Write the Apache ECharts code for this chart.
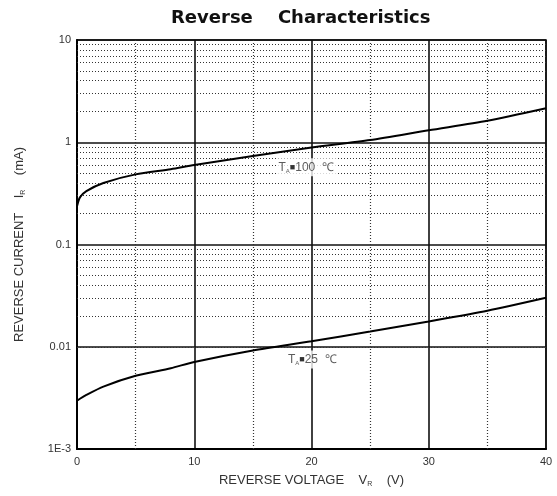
<!DOCTYPE html>
<html>
<head>
<meta charset="utf-8">
<script src="https://cdn.jsdelivr.net/npm/echarts@6/dist/echarts.min.js"></script>
<style>
  html, body { margin: 0; padding: 0; background: #fff; }
  #chart { width: 557px; height: 496px; }
</style>
</head>
<body>
<div id="chart"></div>
<script>
// reverse voltage (V)
const voltage = [0, 0.25, 0.8, 2.25, 5, 8, 10, 15, 20, 25, 30, 35, 40];
// reverse current (mA)
const current100 = [0.237, 0.289, 0.333, 0.40, 0.485, 0.544, 0.598, 0.734, 0.887, 1.05, 1.31, 1.62, 2.15];
const current25 = [0.00296, 0.0031, 0.00338, 0.00408, 0.0052, 0.00617, 0.0071, 0.0092, 0.0113, 0.0141, 0.0177, 0.0225, 0.0301];
// dotted minor grid
const minorY = [];
[0.001, 0.01, 0.1, 1].forEach(d => {
  for (let k = 2; k <= 9; k++) minorY.push(+(d * k).toPrecision(3));
});
const minorX = [5, 15, 25, 35];
const yLabels = { 0.001: '1E-3', 0.01: '0.01', 0.1: '0.1', 1: '1', 10: '10' };
// annotations [x, y, text]
const notes = [
  [17.1, 0.57, '100  ℃'],
  [17.9, 0.0075, '25  ℃']
];

const pairs = ys => voltage.map((v, i) => [v, ys[i]]);
const sub = { fontSize: 7, verticalAlign: 'bottom', padding: [9, 0, 0, 0], color: '#333' };

const myChart = echarts.init(document.getElementById('chart'));
const option = {
  animation: false,
  title: {
    text: 'Reverse    Characteristics',
    left: 166,
    top: 4,
    textStyle: { fontFamily: 'DejaVu Sans', fontWeight: 'bold', fontSize: 18, color: '#111' }
  },
  grid: {
    left: 77, right: 11, top: 40, bottom: 47,
    show: true, borderColor: '#000', borderWidth: 1.5
  },
  xAxis: {
    type: 'value',
    min: 0, max: 40, interval: 10,
    axisLine: { show: true, lineStyle: { color: '#000', width: 2 } },
    axisTick: { show: false },
    axisLabel: { margin: 7, fontFamily: 'Liberation Sans', fontSize: 11, color: '#333' },
    splitLine: { show: true, lineStyle: { color: '#111', width: 1.6 } },
    name: 'REVERSE VOLTAGE    V{s|R}    (V)',
    nameLocation: 'middle',
    nameGap: 23,
    nameTextStyle: { fontFamily: 'Liberation Sans', fontSize: 13, color: '#333', rich: { s: sub } }
  },
  yAxis: {
    type: 'log',
    logBase: 10,
    min: 0.001, max: 10,
    axisLine: { show: true, lineStyle: { color: '#000', width: 2 } },
    axisTick: { show: false },
    axisLabel: {
      margin: 6, fontFamily: 'Liberation Sans', fontSize: 11, color: '#333',
      formatter: v => yLabels[+v.toPrecision(3)] || ''
    },
    splitLine: { show: true, lineStyle: { color: '#111', width: 1.6 } },
    name: 'REVERSE CURRENT    I{s|R}    (mA)',
    nameLocation: 'middle',
    nameGap: 50,
    nameTextStyle: { fontFamily: 'Liberation Sans', fontSize: 13, color: '#333', rich: { s: sub } }
  },
  series: [
    {
      type: 'line',
      data: pairs(current100),
      smooth: 0.25,
      symbol: 'none',
      lineStyle: { color: '#000', width: 2 },
      z: 5,
      markLine: {
        silent: true,
        symbol: 'none',
        label: { show: false },
        lineStyle: { type: [1, 2], color: '#333', width: 1.2 },
        data: minorY.map(v => ({ yAxis: v })).concat(minorX.map(v => ({ xAxis: v })))
      }
    },
    {
      type: 'line',
      data: pairs(current25),
      smooth: 0.25,
      symbol: 'none',
      lineStyle: { color: '#000', width: 2 },
      z: 5
    },
    {
      type: 'scatter',
      symbolSize: 0,
      z: 10,
      data: notes.map(n => ({ value: [n[0], n[1]], txt: n[2] })),
      label: {
        show: true,
        position: 'right',
        distance: 0,
        backgroundColor: '#fff',
        padding: [2, 3, 2, 1],
        fontFamily: 'Liberation Sans',
        fontSize: 12,
        color: '#333',
        formatter: p => 'T{s|A}{b|■}' + p.data.txt,
        rich: {
          s: { fontSize: 6, verticalAlign: 'bottom', padding: [8, 0, 0, 0], color: '#333' },
          b: { fontSize: 9, color: '#000' }
        }
      }
    }
  ]
};
myChart.setOption(option);
</script>
</body>
</html>
